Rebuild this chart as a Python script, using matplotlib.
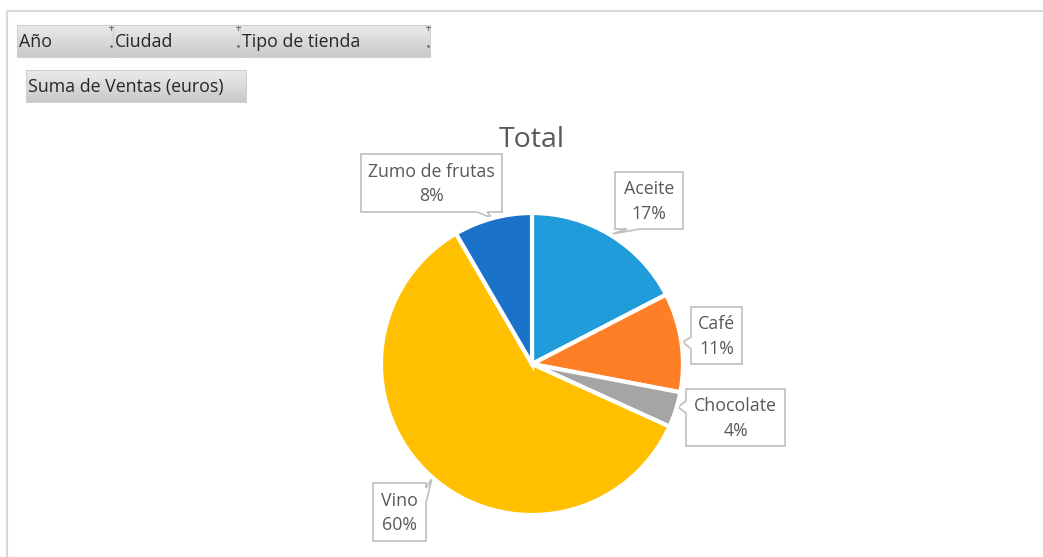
import matplotlib
matplotlib.use("Agg")
import matplotlib.pyplot as plt
import numpy as np
from matplotlib.patches import Polygon, Rectangle
from matplotlib.colors import LinearSegmentedColormap

plt.rcParams['font.family'] = ['Open Sans', 'DejaVu Sans']

# ---- data ----
categories = ["Aceite", "Café", "Chocolate", "Vino", "Zumo de frutas"]
shares = [17.4, 10.6, 3.8, 59.8, 8.4]
colors = ["#209CDB", "#FF7F27", "#A5A5A5", "#FFC000", "#1A72C9"]
filter_buttons = ["Año", "Ciudad", "Tipo de tienda"]
value_button = "Suma de Ventas (euros)"
title = "Total"

W, H = 1043, 557
fig = plt.figure(figsize=(W / 100, H / 100), dpi=100)
ax = fig.add_axes([0, 0, 1, 1])
ax.set_xlim(0, W)
ax.set_ylim(H, 0)
ax.axis("off")

TXT = "#595959"

# chart area border
ax.plot([7, 7, W], [H, 11, 11], color="#D9D9D9", lw=1.5, zorder=1)

# gradient buttons
grad = np.linspace(0, 1, 50).reshape(-1, 1)
bcmap = LinearSegmentedColormap.from_list("b", ["#EBEBEB", "#C9C9C9"])

def button(x0, x1, y0, y1, text, marks=True):
    ax.imshow(grad, cmap=bcmap, extent=(x0, x1, y1, y0), aspect="auto", zorder=2)
    ax.add_patch(Rectangle((x0, y0), x1 - x0, y1 - y0, fill=False, ec="#D0D0D0", lw=0.8, zorder=3))
    ax.text(x0 + 2, (y0 + y1) / 2 + 1, text, fontsize=12.8, color="#262626", va="center", ha="left", zorder=4)
    if marks:
        ax.plot([x1 - 2, x1 - 2], [y0 + 1, y0 + 5], color="#777777", lw=0.8, zorder=4)
        ax.plot([x1 - 4, x1], [y0 + 1.5, y0 + 1.5], color="#777777", lw=0.8, zorder=4)
        ax.plot([x1 - 2], [y1 - 11], marker="s", ms=0.8, color="#666666", zorder=4)

bx = [17, 113, 240, 430]
for i, t in enumerate(filter_buttons):
    button(bx[i], bx[i + 1], 25, 57, t)
button(26, 246, 70, 102, value_button, marks=False)

# title
ax.text(532, 140, title, fontsize=20.5, color=TXT, ha="center", va="center")

# pie (draw in separate axes so that orientation is standard)
cx, cy, r = 532, 364, 151
pax = fig.add_axes([(cx - r) / W, 1 - (cy + r) / H, 2 * r / W, 2 * r / H])
pax.pie(shares, colors=colors, startangle=90, counterclock=False,
        wedgeprops=dict(edgecolor="white", linewidth=3))
pax.set_xlim(-1, 1)
pax.set_ylim(-1, 1)
pax.set_aspect("auto")
pax.axis("off")

# callouts: box (x0, x1, y0, y1), pointer side, base positions, tip
callouts = [
    ((615, 683, 172, 229), "bottom", (640, 627), (612, 234)),
    ((691, 742, 307, 364), "left", (349, 337), (683, 342)),
    ((686, 785, 389, 446), "left", (413, 401), (678, 407)),
    ((373, 426, 483, 541), "right", (488, 503), (432, 478)),
    ((361, 502, 154, 212), "bottom", (487, 477), (492, 218)),
]

def outline(box, side, base, tip):
    x0, x1, y0, y1 = box
    b1, b2 = base
    if side == "bottom":
        pts = [(x0, y0), (x1, y0), (x1, y1), (max(b1, b2), y1), tip, (min(b1, b2), y1), (x0, y1)]
    elif side == "left":
        pts = [(x0, y0), (x1, y0), (x1, y1), (x0, y1), (x0, max(b1, b2)), tip, (x0, min(b1, b2))]
    elif side == "right":
        pts = [(x0, y0), (x1, y0), (x1, min(b1, b2)), tip, (x1, max(b1, b2)), (x1, y1), (x0, y1)]
    else:
        pts = [(x0, y0), (x1, y0), (x1, y1), (x0, y1)]
    return pts

for cat, val, (box, side, base, tip) in zip(categories, shares, callouts):
    pts = outline(box, side, base, tip)
    ax.add_patch(Polygon(pts, closed=True, fc="white", ec="#BFBFBF", lw=1.2, zorder=5))
    x0, x1, y0, y1 = box
    ax.text((x0 + x1) / 2, (y0 + y1) / 2 + 1, f"{cat}\n{round(val):d}%", fontsize=12.8,
            color=TXT, ha="center", va="center", linespacing=1.45, zorder=6)

fig.savefig("out.png", dpi=100)
